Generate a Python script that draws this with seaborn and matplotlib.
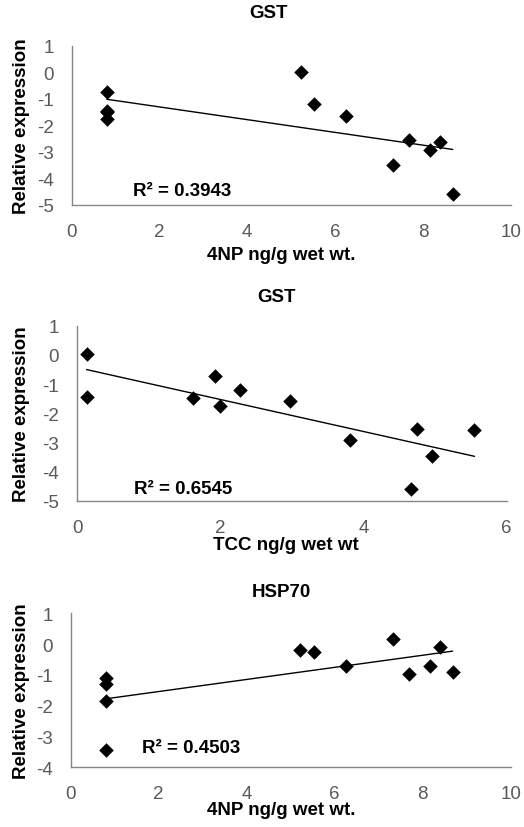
import matplotlib
matplotlib.use("Agg")
import matplotlib.pyplot as plt
import seaborn as sns
import pandas as pd

# ---- data ----
np4_x = [0.8, 0.8, 0.8, 0.8, 5.22, 5.52, 6.25, 7.33, 7.68, 8.16, 8.39, 8.68]
gst_4np_y = [-0.73, -1.45, -1.50, -1.76, 0.02, -1.20, -1.66, -3.49, -2.55, -2.91, -2.61, -4.57]

tcc_x = [0.13, 0.13, 1.61, 1.92, 1.99, 2.27, 2.97, 3.81, 4.66, 4.75, 4.95, 5.55]
gst_tcc_y = [0.02, -1.43, -1.49, -0.74, -1.74, -1.19, -1.59, -2.92, -4.60, -2.54, -3.46, -2.58]

hsp_4np_y = [-1.10, -1.31, -1.84, -3.43, -0.19, -0.27, -0.70, 0.17, -0.97, -0.70, -0.10, -0.89]

titles = ["GST", "GST", "HSP70"]
xlabels = ["4NP ng/g wet wt.", "TCC ng/g wet wt", "4NP ng/g wet wt."]
ylabel = "Relative expression"
r2_labels = ["R\u00b2 = 0.3943", "R\u00b2 = 0.6545", "R\u00b2 = 0.4503"]
xticks = [[0, 2, 4, 6, 8, 10], [0, 2, 4, 6], [0, 2, 4, 6, 8, 10]]
yticks = [[-5, -4, -3, -2, -1, 0, 1], [-5, -4, -3, -2, -1, 0, 1], [-4, -3, -2, -1, 0, 1]]

sns.set_theme(style="white")
plt.rcParams['font.family'] = ['Liberation Sans', 'DejaVu Sans']

W, H = 524, 828
fig = plt.figure(figsize=(W / 100, H / 100), dpi=100)

def px_axes(l, r, t, b):
    return fig.add_axes([l / W, 1 - b / H, (r - l) / W, (b - t) / H])

axes_px = [(71.7, 510.7, 46.7, 206.0), (77.3, 506.7, 326.7, 501.7), (70.7, 510.7, 614.3, 768.3)]
datasets = [(np4_x, gst_4np_y), (tcc_x, gst_tcc_y), (np4_x, hsp_4np_y)]
title_pos = [(269, 14), (277, 297), (281, 593)]
xlabel_pos = [(281, 256), (286, 546), (281, 811)]
r2_pos = [(133, 191.5), (134, 490), (142, 749)]

gray = "#868686"
tickc = "#595959"

for i, ((xs, ys), box) in enumerate(zip(datasets, axes_px)):
    ax = px_axes(*box)
    df = pd.DataFrame({"x": xs, "y": ys})
    sns.regplot(data=df, x="x", y="y", ax=ax, ci=None, color="black", marker="D",
                scatter_kws={"s": 55, "linewidths": 0, "zorder": 3, "alpha": 1},
                line_kws={"lw": 1.0, "color": "black"})
    ax.set_xlim(xticks[i][0], xticks[i][-1])
    ax.set_ylim(yticks[i][0], yticks[i][-1])
    ax.set_xticks(xticks[i])
    ax.set_yticks(yticks[i])
    ax.set_xticklabels([str(v) for v in xticks[i]])
    ax.set_yticklabels([str(v) for v in yticks[i]])
    ax.set_xlabel("")
    ax.set_ylabel("")
    for s in ["top", "right"]:
        ax.spines[s].set_visible(False)
    for s in ["left", "bottom"]:
        ax.spines[s].set_color(gray)
        ax.spines[s].set_linewidth(1.0)
    ax.tick_params(axis="both", direction="out", length=5, width=1, color=gray,
                   labelcolor=tickc, labelsize=13.5, pad=8)
    for c in ax.collections:
        c.set_clip_on(False)
    tx, ty = title_pos[i]
    fig.text(tx / W, 1 - ty / H, titles[i], ha="center", va="center",
             fontsize=13.5, fontweight="bold", color="black")
    lx, ly = xlabel_pos[i]
    fig.text(lx / W, 1 - ly / H, xlabels[i], ha="center", va="center",
             fontsize=13.5, fontweight="bold", color="black")
    fig.text(22 / W, 1 - ((box[2] + box[3]) / 2) / H, ylabel, ha="center", va="center",
             rotation=90, fontsize=13.5, fontweight="bold", color="black")
    rx, ry = r2_pos[i]
    fig.text(rx / W, 1 - ry / H, r2_labels[i], ha="left", va="center",
             fontsize=13.5, fontweight="bold", color="black")

fig.savefig("out.png", dpi=100)
